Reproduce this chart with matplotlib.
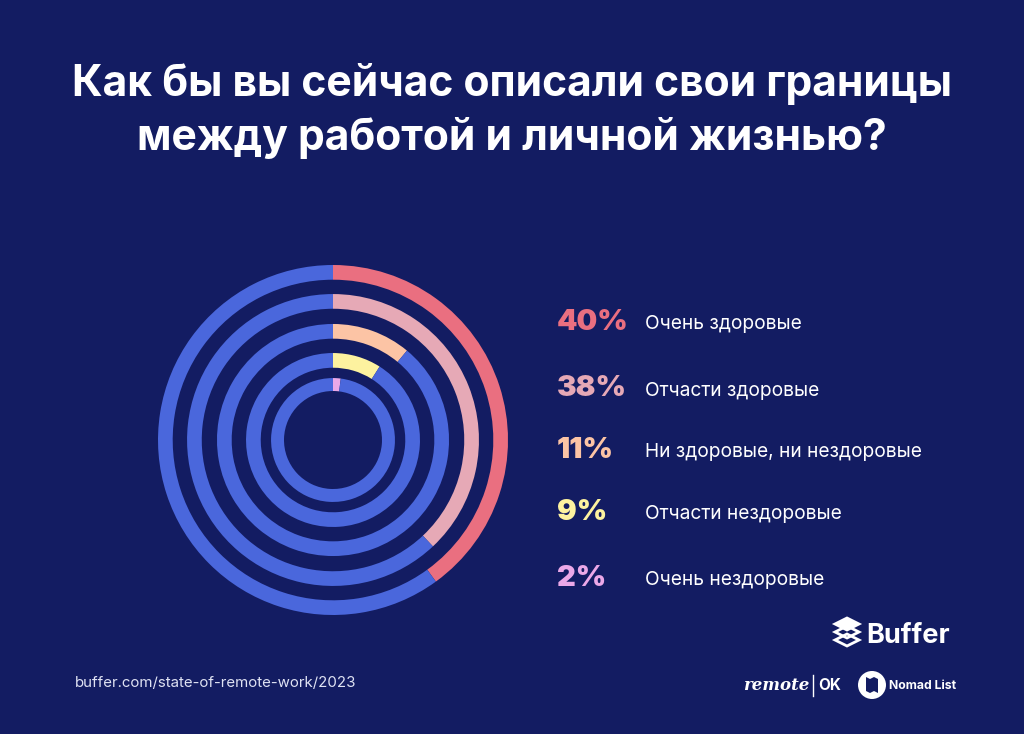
import numpy as np
import matplotlib.pyplot as plt
from matplotlib.patches import Polygon, Circle

plt.rcParams['font.family'] = ['Inter', 'DejaVu Sans']

# данные
labels = ['Очень здоровые', 'Отчасти здоровые', 'Ни здоровые, ни нездоровые',
          'Отчасти нездоровые', 'Очень нездоровые']
values = [40, 38, 11, 9, 2]
colors = ['#ea6f80', '#e6a9b6', '#fcc4a5', '#fdf29f', '#eba8e8']
title = 'Как бы вы сейчас описали свои границы\nмежду работой и личной жизнью?'
source = 'buffer.com/state-of-remote-work/2023'

bg = '#131c62'
ring_blue = '#4a67dc'
W, H = 1024, 734

fig = plt.figure(figsize=(W / 100, H / 100), dpi=100, facecolor=bg)

# фон + тексты в пиксельных координатах
ax = fig.add_axes([0, 0, 1, 1])
ax.set_xlim(0, W)
ax.set_ylim(H, 0)
ax.axis('off')
ax.set_facecolor(bg)

ax.text(512, 111, title, ha='center', va='center', color='white',
        fontsize=30.7, fontweight='bold', linespacing=1.38)

# кольца
cx, cy, R = 333, 440, 175
pax = fig.add_axes([(cx - R) / W, (H - cy - R) / H, 2 * R / W, 2 * R / H])
radii = [1.0, 0.834, 0.663, 0.497, 0.354]
widths = [0.084, 0.084, 0.084, 0.084, 0.074]
for v, c, r, w in zip(values, colors, radii, widths):
    pax.pie([v, 100 - v], radius=r, startangle=90, counterclock=False,
            colors=[c, ring_blue], wedgeprops=dict(width=w, linewidth=0))
pax.set_xlim(-1, 1)
pax.set_ylim(-1, 1)
pax.set_aspect('equal')
pax.axis('off')

# легенда
ys = [322, 389, 450, 512, 578]
for v, lab, c, y in zip(values, labels, colors, ys):
    ax.text(557, y, f'{v}%', color=c, fontsize=21, fontweight='black',
            ha='left', va='center')
    ax.text(645, y + 2, lab, color='white', fontsize=13.8, ha='left', va='center')

# подвал
ax.text(75, 683, source, color='#dfe2f3', fontsize=10.8, ha='left', va='center')

# логотип Buffer
for k in range(3):
    yy = 624 + k * 8
    pts = [(835, yy), (847, yy - 6), (859, yy), (847, yy + 6)]
    ax.add_patch(Polygon(pts, closed=True, fc='white' if k == 0 else 'none',
                         ec='white', lw=2))
ax.text(866, 636, 'Buffer', color='white', fontsize=19.5, fontweight='bold',
        ha='left', va='center')

# remote | OK
ax.text(743, 686, 'remote', color='white', fontsize=12, fontweight='bold',
        style='italic', family=['DejaVu Serif'], ha='left', va='center')
ax.plot([813, 813], [675, 696], color='white', lw=1)
ax.text(818, 686, 'OK', color='white', fontsize=11, fontweight='bold',
        ha='left', va='center')

# Nomad List
ax.add_patch(Circle((872, 685), 14, fc='white', ec='none'))
ax.add_patch(Polygon([(866, 677), (870, 679), (874, 677), (878, 679),
                      (878, 693), (874, 691), (870, 693), (866, 691)],
                     closed=True, fc=bg, ec='none'))
ax.text(889, 686, 'Nomad List', color='white', fontsize=8.8, fontweight='bold',
        ha='left', va='center')

fig.savefig('out.png', dpi=100, facecolor=bg)
